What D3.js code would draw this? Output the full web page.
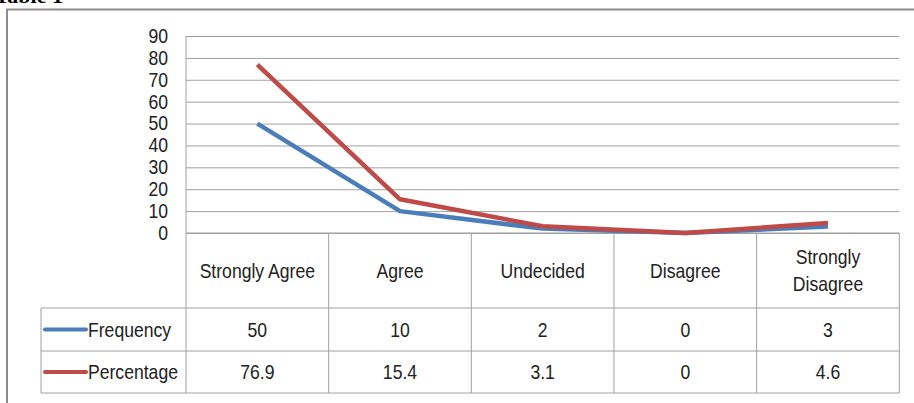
<!DOCTYPE html>
<html>
<head>
<meta charset="utf-8">
<script src="https://cdn.jsdelivr.net/npm/d3@7"></script>
<style>
  body { margin: 0; background: white; }
  svg text { font-family: "Liberation Sans", Arial, sans-serif; fill: #222; }
</style>
</head>
<body>
<div id="plot"></div>
<script>
// data
  var categories = ["Strongly Agree", "Agree", "Undecided", "Disagree", "Strongly Disagree"];
  var frequency = [50, 10, 2, 0, 3];
  var percentage = [76.9, 15.4, 3.1, 0, 4.6];
  var seriesNames = ["Frequency", "Percentage"];
  var yTicks = [0, 10, 20, 30, 40, 50, 60, 70, 80, 90];

  var w = 914;
  var h = 403;
  var plot = {left: 186, right: 899.3, top: 36, bottom: 233};
  var rows = [233, 308, 351, 393];
  var legendLeft = 41;
  var colors = ["#4A7EBB", "#BE4B48"];
  var lineGrey = "#a0a0a0";
  var squeeze = 0.88;   // narrow the font like Calibri

  var xScale = d3.scaleBand()
      .domain(categories)
      .range([plot.left, plot.right]);

  var yScale = d3.scaleLinear()
      .domain([0, 90])
      .range([plot.bottom, plot.top]);

  var svg = d3.select("div#plot")
    .append("svg")
      .attr("width", w)
      .attr("height", h);

  svg.append("rect")
      .attr("width", w)
      .attr("height", h)
      .attr("fill", "white");

  // text helper: places a squeezed label at x, y
  function label(parent, x, y, anchor) {
    return parent.append("text")
        .attr("transform", `translate(${x},${y}) scale(${squeeze},1)`)
        .attr("text-anchor", anchor)
        .attr("dy", "0.35em")
        .attr("font-size", "20px");
  }

// title, cut at the top edge like the source
  svg.append("text")
      .attr("x", 63)
      .attr("y", 3)
      .attr("text-anchor", "end")
      .style("font-family", "'Liberation Serif', serif")
      .style("font-weight", "bold")
      .style("font-size", "22px")
      .style("fill", "#000")
      .text("Table 1");

// outer frame
  svg.append("rect")
      .attr("x", 7)
      .attr("y", 9.5)
      .attr("width", w + 10)
      .attr("height", h + 10)
      .attr("fill", "none")
      .attr("stroke", "#8c8c8c")
      .attr("stroke-width", 2);

// y axis with gridlines
  var yAxis = d3.axisLeft(yScale)
      .tickValues(yTicks)
      .tickSize(-(plot.right - plot.left))
      .tickPadding(18 / squeeze);

  var gy = svg.append("g")
      .attr("transform", `translate(${plot.left},0)`)
      .call(yAxis);

  gy.select(".domain").remove();
  gy.selectAll(".tick line")
      .attr("stroke", lineGrey)
      .attr("stroke-width", 1);
  gy.selectAll(".tick text")
      .attr("transform", `scale(${squeeze},1)`)
      .attr("font-size", "20px")
      .style("font-family", "'Liberation Sans', Arial, sans-serif")
      .attr("fill", "#222");

  svg.append("line")
      .attr("x1", plot.left).attr("x2", plot.left)
      .attr("y1", plot.top).attr("y2", plot.bottom)
      .attr("stroke", lineGrey);

// data table grid
  var table = svg.append("g").attr("class", "table");

  var colEdges = categories.map(c => xScale(c)).concat([plot.right]);

  table.selectAll("line.col")
    .data(colEdges)
    .enter().append("line")
      .attr("x1", d => d).attr("x2", d => d)
      .attr("y1", rows[0]).attr("y2", rows[3])
      .attr("stroke", lineGrey);

  table.append("line")
      .attr("x1", legendLeft).attr("x2", legendLeft)
      .attr("y1", rows[1]).attr("y2", rows[3])
      .attr("stroke", lineGrey);

  table.selectAll("line.row")
    .data(rows)
    .enter().append("line")
      .attr("x1", (d, i) => i == 0 ? plot.left : legendLeft)
      .attr("x2", plot.right)
      .attr("y1", d => d).attr("y2", d => d)
      .attr("stroke", lineGrey);

// category header labels (wrap when too wide)
  categories.forEach(function(c) {
    var cx = xScale(c) + xScale.bandwidth() / 2;
    var cy = (rows[0] + rows[1]) / 2;
    var t = label(table, cx, cy, "middle").text(c);
    if (t.node().getComputedTextLength() * squeeze > xScale.bandwidth() - 18) {
      var words = c.split(" ");
      t.text(null);
      words.forEach(function(wd, i) {
        t.append("tspan")
            .attr("x", 0)
            .attr("y", (i - (words.length - 1) / 2) * 28)
            .attr("dy", "0.35em")
            .text(wd);
      });
    }
  });

// value rows with legend keys
  var series = [frequency, percentage];
  series.forEach(function(vals, s) {
    var cy = (rows[s + 1] + rows[s + 2]) / 2;
    table.append("line")
        .attr("x1", 45).attr("x2", 86)
        .attr("y1", cy).attr("y2", cy)
        .attr("stroke", colors[s])
        .attr("stroke-width", 4)
        .attr("stroke-linecap", "round");
    label(table, 88, cy, "start").text(seriesNames[s]);
    vals.forEach(function(d, i) {
      label(table, xScale(categories[i]) + xScale.bandwidth() / 2, cy, "middle").text(d);
    });
  });

// lines
  var line = d3.line()
      .x((d, i) => xScale(categories[i]) + xScale.bandwidth() / 2)
      .y(d => yScale(d));

  series.forEach(function(vals, s) {
    svg.append("path")
        .datum(vals)
        .attr("d", line)
        .attr("fill", "none")
        .attr("stroke", colors[s])
        .attr("stroke-width", 4.5)
        .attr("stroke-linejoin", "round");
  });
</script>
</body>
</html>
